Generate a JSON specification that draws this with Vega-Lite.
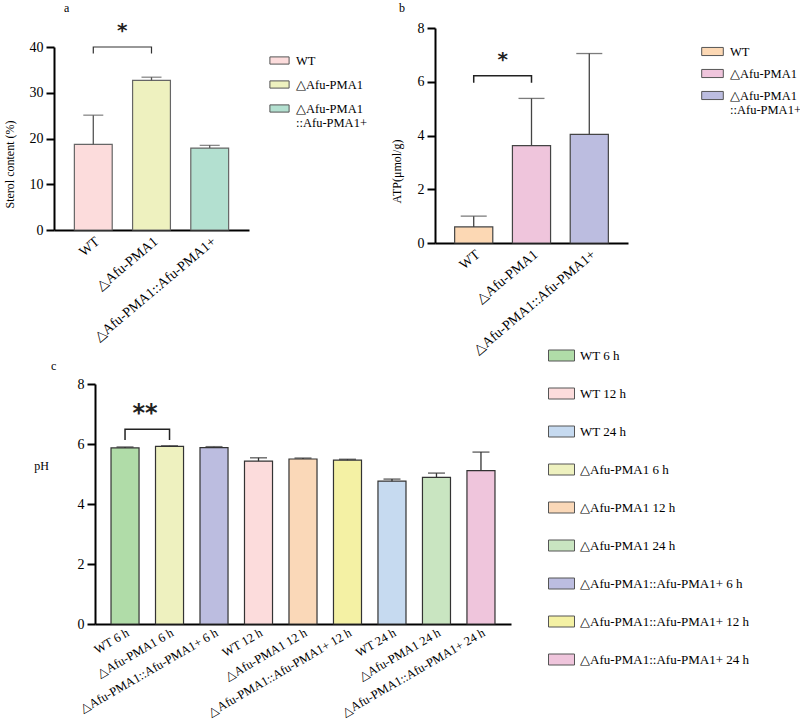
{
  "$schema": "https://vega.github.io/schema/vega-lite/v6.json",
  "background": "white",
  "padding": {"left": 3, "top": 1, "right": 0, "bottom": 0},
  "config": {
    "font": "Liberation Serif",
    "view": {"stroke": null},
    "axis": {"domainColor": "black", "domainWidth": 2, "tickColor": "black", "tickWidth": 2, "tickSize": 8, "labelFont": "Liberation Serif", "labelFontSize": 14, "labelColor": "black", "labelLimit": 0, "titleFont": "Liberation Serif", "titleFontSize": 12, "titleFontWeight": "normal", "titleColor": "black", "grid": false},
    "axisY": {"labelPadding": 3},
    "axisX": {"ticks": false, "title": null, "labelPadding": 4},
    "legend": {"labelFont": "Liberation Serif", "labelFontSize": 12.5, "labelColor": "black", "labelLimit": 0, "symbolStrokeColor": "#555", "symbolStrokeWidth": 1, "title": null, "symbolOpacity": 1},
    "title": {"font": "Liberation Serif", "fontSize": 12, "fontWeight": "normal", "anchor": "start", "color": "black", "frame": "group"}
  },
  "resolve": {"scale": {"color": "independent"}},
  "spacing": -12,
  "vconcat": [
    {
      "resolve": {"scale": {"color": "independent"}},
      "spacing": 23,
      "hconcat": [
        {
          "title": {"text": "a", "dx": 10, "offset": 6},
          "width": 195,
          "height": 215,
          "layer": [
            {
              "data": {"values": [
                {"group": "WT", "value": 18.7, "err": 25.1},
                {"group": "△Afu-PMA1", "value": 32.7, "err": 33.4},
                {"group": "△Afu-PMA1::Afu-PMA1+", "value": 17.9, "err": 18.5}
              ]},
              "layer": [
                {
                  "mark": {"type": "bar", "stroke": "#666", "strokeWidth": 1.2},
                  "encoding": {
                    "x": {"field": "group", "type": "nominal", "scale": {"domain": ["WT", "△Afu-PMA1", "△Afu-PMA1::Afu-PMA1+"], "padding": 0.35}, "axis": {"labelAngle": -40, "offset": -13}},
                    "y": {"field": "value", "type": "quantitative", "scale": {"domain": [0, 40], "range": [202, 19]}, "axis": {"values": [0, 10, 20, 30, 40], "title": "Sterol content (%)", "titleX": -38, "titleY": 136}},
                    "color": {"field": "group", "type": "nominal", "scale": {"domain": ["WT", "△Afu-PMA1", "△Afu-PMA1::Afu-PMA1+"], "range": ["#fcdcdc", "#eef1bf", "#b3e0d0"]},
                      "legend": {"orient": "none", "legendX": 217, "legendY": 24, "symbolType": "M-1.2,-0.45H1.2V0.45H-1.2Z", "symbolSize": 256, "rowPadding": 9, "labelOffset": 8,
                        "labelExpr": "datum.label == '△Afu-PMA1::Afu-PMA1+' ? ['△Afu-PMA1', '::Afu-PMA1+'] : datum.label"}}
                  }
                },
                {
                  "mark": {"type": "rule", "color": "#555", "strokeWidth": 1.3},
                  "encoding": {
                    "x": {"field": "group", "type": "nominal"},
                    "y": {"field": "value", "type": "quantitative"},
                    "y2": {"field": "err"}
                  }
                },
                {
                  "mark": {"type": "tick", "color": "#555", "thickness": 1.3, "size": 20},
                  "encoding": {
                    "x": {"field": "group", "type": "nominal"},
                    "y": {"field": "err", "type": "quantitative"}
                  }
                }
              ]
            },
            {
              "data": {"values": [
                {"group": "WT", "v": 38.6, "o": 1},
                {"group": "WT", "v": 40, "o": 2},
                {"group": "△Afu-PMA1", "v": 40, "o": 3},
                {"group": "△Afu-PMA1", "v": 38.6, "o": 4}
              ]},
              "mark": {"type": "line", "color": "#333", "strokeWidth": 1.2},
              "encoding": {
                "x": {"field": "group", "type": "nominal"},
                "y": {"field": "v", "type": "quantitative"},
                "order": {"field": "o", "type": "quantitative"}
              }
            },
            {
              "data": {"values": [{"group": "WT", "v": 43.5, "label": "*"}]},
              "mark": {"type": "text", "font": "DejaVu Sans", "fontSize": 20, "fontWeight": "bold", "color": "#222", "xOffset": 29, "baseline": "middle"},
              "encoding": {
                "x": {"field": "group", "type": "nominal"},
                "y": {"field": "v", "type": "quantitative"},
                "text": {"field": "label"}
              }
            }
          ]
        },
        {
          "title": {"text": "b", "dx": -36, "offset": 6},
          "width": 193,
          "height": 215,
          "layer": [
            {
              "data": {"values": [
                {"group": "WT", "value": 0.6, "err": 1.0},
                {"group": "△Afu-PMA1", "value": 3.62, "err": 5.38},
                {"group": "△Afu-PMA1::Afu-PMA1+", "value": 4.04, "err": 7.05}
              ]},
              "layer": [
                {
                  "mark": {"type": "bar", "stroke": "#444", "strokeWidth": 1.2},
                  "encoding": {
                    "x": {"field": "group", "type": "nominal", "scale": {"domain": ["WT", "△Afu-PMA1", "△Afu-PMA1::Afu-PMA1+"], "padding": 0.34}, "axis": {"labelAngle": -40}},
                    "y": {"field": "value", "type": "quantitative", "scale": {"domain": [0, 8]}, "axis": {"values": [0, 2, 4, 6, 8], "title": "ATP(μmol/g)", "titleX": -32, "titleY": 143}},
                    "color": {"field": "group", "type": "nominal", "scale": {"domain": ["WT", "△Afu-PMA1", "△Afu-PMA1::Afu-PMA1+"], "range": ["#fcd8b4", "#efc5dc", "#bcbde0"]},
                      "legend": {"orient": "none", "legendX": 268, "legendY": 14, "symbolType": "M-1.2,-0.45H1.2V0.45H-1.2Z", "symbolSize": 324, "rowPadding": 6, "labelOffset": 8,
                        "labelExpr": "datum.label == '△Afu-PMA1::Afu-PMA1+' ? ['△Afu-PMA1', '::Afu-PMA1+'] : datum.label"}}
                  }
                },
                {
                  "mark": {"type": "rule", "color": "#444", "strokeWidth": 1.3},
                  "encoding": {
                    "x": {"field": "group", "type": "nominal"},
                    "y": {"field": "value", "type": "quantitative"},
                    "y2": {"field": "err"}
                  }
                },
                {
                  "mark": {"type": "tick", "color": "#444", "thickness": 1.3, "size": 26},
                  "encoding": {
                    "x": {"field": "group", "type": "nominal"},
                    "y": {"field": "err", "type": "quantitative"}
                  }
                }
              ]
            },
            {
              "data": {"values": [
                {"group": "WT", "v": 5.96, "o": 1},
                {"group": "WT", "v": 6.22, "o": 2},
                {"group": "△Afu-PMA1", "v": 6.22, "o": 3},
                {"group": "△Afu-PMA1", "v": 5.96, "o": 4}
              ]},
              "mark": {"type": "line", "color": "#222", "strokeWidth": 1.5},
              "encoding": {
                "x": {"field": "group", "type": "nominal"},
                "y": {"field": "v", "type": "quantitative"},
                "order": {"field": "o", "type": "quantitative"}
              }
            },
            {
              "data": {"values": [{"group": "WT", "v": 6.8, "label": "*"}]},
              "mark": {"type": "text", "font": "DejaVu Sans", "fontSize": 20, "fontWeight": "bold", "color": "#222", "xOffset": 29, "baseline": "middle"},
              "encoding": {
                "x": {"field": "group", "type": "nominal"},
                "y": {"field": "v", "type": "quantitative"},
                "text": {"field": "label"}
              }
            }
          ]
        }
      ]
    },
    {
      "title": {"text": "c", "dx": -3, "offset": -28},
      "width": 457,
      "height": 240,
      "layer": [
        {
          "data": {"values": [
            {"group": "WT 6 h", "value": 5.87, "err": 5.9},
            {"group": "△Afu-PMA1 6 h", "value": 5.92, "err": 5.94},
            {"group": "△Afu-PMA1::Afu-PMA1+ 6 h", "value": 5.88, "err": 5.91},
            {"group": "WT 12 h", "value": 5.43, "err": 5.54},
            {"group": "△Afu-PMA1 12 h", "value": 5.5, "err": 5.53},
            {"group": "△Afu-PMA1::Afu-PMA1+ 12 h", "value": 5.46, "err": 5.49},
            {"group": "WT 24 h", "value": 4.76, "err": 4.83},
            {"group": "△Afu-PMA1 24 h", "value": 4.89, "err": 5.03},
            {"group": "△Afu-PMA1::Afu-PMA1+ 24 h", "value": 5.11, "err": 5.73}
          ]},
          "layer": [
            {
              "mark": {"type": "bar", "stroke": "#333", "strokeWidth": 1.2},
              "encoding": {
                "x": {"field": "group", "type": "nominal", "scale": {"domain": ["WT 6 h", "△Afu-PMA1 6 h", "△Afu-PMA1::Afu-PMA1+ 6 h", "WT 12 h", "△Afu-PMA1 12 h", "△Afu-PMA1::Afu-PMA1+ 12 h", "WT 24 h", "△Afu-PMA1 24 h", "△Afu-PMA1::Afu-PMA1+ 24 h"], "range": [41, 457], "paddingInner": 0.37, "paddingOuter": 0.36}, "axis": {"labelAngle": -30, "labelFontSize": 12.5, "labelPadding": 2}},
                "y": {"field": "value", "type": "quantitative", "scale": {"domain": [0, 8]}, "axis": {"offset": -41, "values": [0, 2, 4, 6, 8], "title": "pH", "titleAngle": 0, "titleX": -54, "titleY": 81, "titleAlign": "center", "titleBaseline": "middle"}},
                "color": {"field": "group", "type": "nominal", "scale": {"domain": ["WT 6 h", "WT 12 h", "WT 24 h", "△Afu-PMA1 6 h", "△Afu-PMA1 12 h", "△Afu-PMA1 24 h", "△Afu-PMA1::Afu-PMA1+ 6 h", "△Afu-PMA1::Afu-PMA1+ 12 h", "△Afu-PMA1::Afu-PMA1+ 24 h"], "range": ["#b0dca8", "#fcdcdc", "#c6daf0", "#eef1bf", "#fad8b8", "#c9e5c1", "#bcbde0", "#f4f1a4", "#efc5dc"]},
                  "legend": {"orient": "none", "legendX": 497, "legendY": -39, "symbolType": "M-1.3,-0.55H1.3V0.55H-1.3Z", "symbolSize": 400, "rowPadding": 20, "labelOffset": 8, "labelFontSize": 13, "labelLimit": 0}}
              }
            },
            {
              "mark": {"type": "rule", "color": "#333", "strokeWidth": 1.3},
              "encoding": {
                "x": {"field": "group", "type": "nominal"},
                "y": {"field": "value", "type": "quantitative"},
                "y2": {"field": "err"}
              }
            },
            {
              "mark": {"type": "tick", "color": "#333", "thickness": 1.5, "size": 17},
              "encoding": {
                "x": {"field": "group", "type": "nominal"},
                "y": {"field": "err", "type": "quantitative"}
              }
            }
          ]
        },
        {
          "data": {"values": [
            {"group": "WT 6 h", "v": 6.13, "o": 1},
            {"group": "WT 6 h", "v": 6.49, "o": 2},
            {"group": "△Afu-PMA1 6 h", "v": 6.49, "o": 3},
            {"group": "△Afu-PMA1 6 h", "v": 6.13, "o": 4}
          ]},
          "mark": {"type": "line", "color": "#222", "strokeWidth": 1.5},
          "encoding": {
            "x": {"field": "group", "type": "nominal"},
            "y": {"field": "v", "type": "quantitative"},
            "order": {"field": "o", "type": "quantitative"}
          }
        },
        {
          "data": {"values": [{"group": "WT 6 h", "v": 7.0, "label": "**"}]},
          "mark": {"type": "text", "font": "DejaVu Sans", "fontSize": 24, "fontWeight": "bold", "color": "#222", "xOffset": 20, "baseline": "middle"},
          "encoding": {
            "x": {"field": "group", "type": "nominal"},
            "y": {"field": "v", "type": "quantitative"},
            "text": {"field": "label"}
          }
        }
      ]
    }
  ]
}
